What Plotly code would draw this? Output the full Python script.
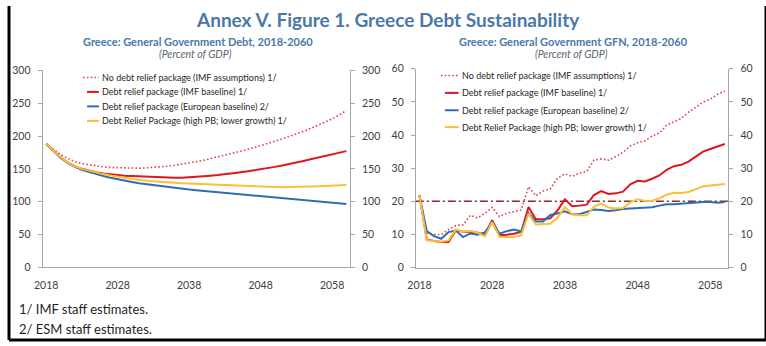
import plotly.graph_objects as go

# ---------------- data ----------------
years = list(range(2018, 2061))
year_ticks = [2018, 2028, 2038, 2048, 2058]

series_names = [
    "No debt relief package (IMF assumptions) 1/",
    "Debt relief package (IMF baseline) 1/",
    "Debt relief package (European baseline) 2/",
    "Debt Relief Package (high PB; lower growth) 1/",
]

# Left panel: General Government Debt (% of GDP)
debt_no_relief = [188, 180, 172, 166, 161, 158, 156, 154, 153, 152,
                  151.5, 151, 151, 151, 151.5, 152, 153, 154, 155.5, 157,
                  159, 161, 163, 165.5, 168, 170.5, 173, 176, 179, 182,
                  185, 188.5, 192, 195.5, 199, 203, 207, 211.5, 216, 221,
                  226, 232, 239]
debt_imf = [188, 178, 168, 160, 154, 150, 147, 145, 143, 141.5,
            140.5, 139.5, 139, 138.5, 138, 137.5, 136.5, 136.5, 136.5, 136.5,
            137, 137.5, 138.5, 139.5, 140.5, 141.5, 143, 144.5, 146, 147.5,
            149, 151, 153, 155, 157, 159.5, 162, 164.5, 167, 170,
            172.5, 175, 177]
debt_euro = [188, 177, 167, 159, 153, 148.5, 145, 142, 139, 136.5,
             134, 132, 130, 128, 126.5, 125, 123.5, 122, 120.5, 119.5,
             118.5, 117.5, 116.5, 115.5, 114.5, 113.5, 112.5, 111.5, 110.5, 109.5,
             108.5, 107.5, 106.5, 105.5, 104.5, 103.5, 102.5, 101.5, 100.5, 99.5,
             98.5, 97.5, 96.5]
debt_highpb = [188, 178, 168, 160, 154, 150, 147, 144.5, 142, 140,
               138, 136, 134.5, 133, 132, 131, 130, 129, 128.5, 128,
               127.5, 127, 126.5, 126, 125.5, 125, 124.5, 124, 123.5, 123,
               122.5, 122.5, 122, 122, 122.5, 122.5, 123, 123, 123.5, 124,
               124.5, 125, 125.5]

# Right panel: General Government GFN (% of GDP)
gfn_no_relief = [21.8, 10.5, 10, 10, 11.5, 12.7, 12.9, 15.8, 15, 16.4,
                 18.2, 15.4, 16.4, 16.9, 17.4, 24.4, 21.7, 23.1, 23.8, 27,
                 28.3, 27.5, 28.5, 29, 32.4, 32.8, 32.4, 33.5, 34.8, 36.7,
                 37.7, 38.2, 39.7, 40.6, 43, 44, 45, 46.9, 48.4, 49.9,
                 50.8, 52.3, 53.3]
gfn_imf = [21.8, 8.5, 8, 7.7, 7.7, 11.3, 10.8, 10.8, 10.5, 9.9,
           14.3, 9.8, 9.9, 10.2, 10.8, 18.3, 14.6, 14.6, 14.9, 17.3,
           20.6, 18.5, 18.7, 19, 21.9, 23.1, 22.2, 22.4, 22.9, 25.1,
           26.2, 26, 26.8, 27.8, 29.5, 30.6, 31, 32, 33.5, 35,
           35.8, 36.5, 37.3]
gfn_euro = [21.8, 11, 9.5, 8.7, 10.7, 11.2, 9.2, 10.3, 9.9, 10.6,
            13.8, 10.2, 11, 11.5, 10.9, 16.5, 13.9, 13.9, 15.9, 16.3,
            17, 16.1, 16.1, 16.8, 17.5, 17.4, 17.1, 17.3, 17.7, 17.8,
            17.9, 18, 18.2, 18.7, 19.1, 19.1, 19.3, 19.5, 19.7, 19.8,
            19.8, 19.6, 19.8]
gfn_highpb = [21.8, 8.3, 8, 7.8, 8.2, 11.5, 10.8, 11.1, 10.5, 9.5,
              13.7, 9.3, 9.2, 9.2, 9.8, 16.3, 13, 13, 13.2, 15.1,
              18.3, 16.1, 15.8, 15.8, 18.3, 19.3, 18.1, 17.8, 18, 19.7,
              20.6, 20.1, 20.2, 20.9, 22, 22.6, 22.5, 22.8, 23.6, 24.5,
              24.8, 24.9, 25.2]
gfn_threshold = 20

# ---------------- styling ----------------
W, H = 766, 346
FONT = "Lato, 'Open Sans', sans-serif"
BLUE_TITLE = "#4A78A8"
AXIS_GREY = "#A6A6A6"
TICK_COL = "#404040"
colors = ["#E2424A", "#E0161E", "#2E6DB4", "#FBBE36"]
dashes = ["1.6px,2.2px", "solid", "solid", "solid"]
widths = [1.6, 2, 2, 2]


def px(x):
    return x / W


def py(y):
    return 1 - y / H


fig = go.Figure()

left_data = [debt_no_relief, debt_imf, debt_euro, debt_highpb]
right_data = [gfn_no_relief, gfn_imf, gfn_euro, gfn_highpb]

for name, vals, c, d, w in zip(series_names, left_data, colors, dashes, widths):
    fig.add_trace(go.Scatter(x=years, y=vals, xaxis="x", yaxis="y", mode="lines",
                             name=name, showlegend=False,
                             line=dict(color=c, dash=d, width=w)))
for name, vals, c, d, w in zip(series_names, right_data, colors, dashes, widths):
    fig.add_trace(go.Scatter(x=years, y=vals, xaxis="x2", yaxis="y3", mode="lines",
                             name=name, showlegend=False,
                             line=dict(color=c, dash=d, width=w)))
# carriers for mirrored right-hand axes
fig.add_trace(go.Scatter(x=[years[0]], y=[None], xaxis="x", yaxis="y2",
                         showlegend=False, hoverinfo="skip"))
fig.add_trace(go.Scatter(x=[years[0]], y=[None], xaxis="x2", yaxis="y4",
                         showlegend=False, hoverinfo="skip"))

tickfont = dict(family=FONT, size=10.5, color=TICK_COL)

x_common = dict(range=[2017.5, 2060.5], tickvals=year_ticks, showline=True,
                linecolor=AXIS_GREY, linewidth=1, ticks="", showgrid=False,
                zeroline=False, tickfont=tickfont, ticklabelstandoff=8,
                fixedrange=True)
y_common = dict(showline=True, linecolor=AXIS_GREY, linewidth=1, ticks="outside",
                ticklen=4, tickcolor=AXIS_GREY, showgrid=False, zeroline=False,
                tickfont=tickfont, ticklabelstandoff=5, fixedrange=True)

L_dom_x = [px(34), px(345)]
L_dom_y = [py(270.7), py(66.7)]
R_dom_x = [px(411.7), px(728)]
R_dom_y = [py(271), py(65)]

fig.update_layout(
    width=W, height=H,
    margin=dict(l=0, r=0, t=0, b=0),
    paper_bgcolor="white", plot_bgcolor="white",
    showlegend=False,
    xaxis=dict(domain=L_dom_x, anchor="y", **x_common),
    yaxis=dict(domain=L_dom_y, anchor="x", range=[0, 300], dtick=50, **y_common),
    yaxis2=dict(overlaying="y", side="right", anchor="x", range=[0, 300], dtick=50, **y_common),
    xaxis2=dict(domain=R_dom_x, anchor="y3", **x_common),
    yaxis3=dict(domain=R_dom_y, anchor="x2", range=[0, 60], dtick=10, **y_common),
    yaxis4=dict(overlaying="y3", side="right", anchor="x2", range=[0, 60], dtick=10, **y_common),
)

shapes = []
# threshold line on GFN panel
shapes.append(dict(type="line", xref="x2 domain", yref="y3", x0=0, x1=1,
                   y0=gfn_threshold, y1=gfn_threshold, layer="below",
                   line=dict(color="#8A2B2B", width=1.5, dash="8px,3px,2px,3px")))
# frame (left, right, bottom)
for x0, y0, x1, y1 in [(0, 0, 0, 1), (1, 0, 1, 1), (0, 0, 1, 0)]:
    shapes.append(dict(type="line", xref="paper", yref="paper", x0=x0, y0=y0, x1=x1, y1=y1,
                       line=dict(color="black", width=3)))

annotations = []
# custom legends
legend_specs = [
    (79, 92, [74, 89, 104, 119]),
    (441, 456, [72, 90, 108, 125.5]),
]
for sx, tx, rows in legend_specs:
    for name, c, d, w, ry in zip(series_names, colors, dashes, widths, rows):
        x0 = sx - 4 if d != "solid" else sx
        shapes.append(dict(type="line", xref="paper", yref="paper",
                           x0=px(x0), x1=px(tx - 1), y0=py(ry), y1=py(ry),
                           line=dict(color=c, width=w, dash=d)))
        annotations.append(dict(text=name, xref="paper", yref="paper", x=px(tx), y=py(ry),
                                xanchor="left", yanchor="middle", showarrow=False,
                                font=dict(family=FONT, size=9, color="#262626")))

# titles
annotations.append(dict(text="<b>Annex V. Figure 1. Greece Debt Sustainability</b>",
                        xref="paper", yref="paper", x=px(383), y=py(14.5),
                        xanchor="center", yanchor="middle", showarrow=False,
                        font=dict(family=FONT, size=19, color=BLUE_TITLE)))
for cx, title in [(191, "Greece: General Government Debt, 2018-2060"),
                  (571, "Greece: General Government GFN, 2018-2060")]:
    annotations.append(dict(text="<b>" + title + "</b>", xref="paper", yref="paper",
                            x=px(cx), y=py(37), xanchor="center", yanchor="middle",
                            showarrow=False,
                            font=dict(family=FONT, size=11, color=BLUE_TITLE)))
    annotations.append(dict(text="<i>(Percent of GDP)</i>", xref="paper", yref="paper",
                            x=px(cx - 2), y=py(50), xanchor="center", yanchor="middle",
                            showarrow=False,
                            font=dict(family=FONT, size=10.5, color="#5B6475")))
# footnotes
for fy, note in [(313.5, "1/ IMF staff estimates."), (335, "2/ ESM staff estimates.")]:
    annotations.append(dict(text=note, xref="paper", yref="paper", x=px(8), y=py(fy),
                            xanchor="left", yanchor="middle", showarrow=False,
                            font=dict(family=FONT, size=13, color="#1F1F1F")))

fig.update_layout(shapes=shapes, annotations=annotations)

fig.write_html("out.html")
